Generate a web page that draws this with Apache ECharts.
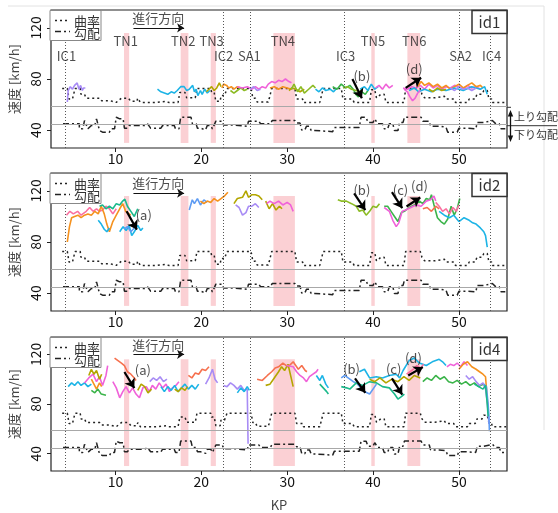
<!DOCTYPE html>
<html>
<head>
<meta charset="utf-8">
<script src="https://cdn.jsdelivr.net/npm/echarts@6/dist/echarts.min.js"></script>
<style>
  html, body { margin: 0; background: #fff; }
  #chart { width: 558px; height: 513px; }
</style>
</head>
<body>
<div id="chart"></div>
<script>
// 軸・施設
var kmTicks = [10, 20, 30, 40, 50];
var speedTicks = [40, 80, 120];
var facilityKm = [4.2, 22.6, 25.7, 36.6, 50.0, 53.7];
var facilityNames = ['IC1', 'IC2', 'SA1', 'IC3', 'SA2', 'IC4'];
var facilityNameKm = [4.3, 22.6, 25.6, 36.8, 50.2, 53.8];
var tunnels = [[11.0, 11.6], [17.6, 18.5], [21.1, 21.7], [28.4, 30.9], [39.8, 40.2], [44.0, 45.5]];
var tunnelNames = ['TN1', 'TN2', 'TN3', 'TN4', 'TN5', 'TN6'];
var tunnelNameKm = [11.2, 17.9, 21.2, 29.5, 40.0, 44.8];
var refLevels = [58.6, 44.4];

// 曲率 / 勾配 (start km, end km, plotted level)
var curvatureSteps = [
  [3.8, 4.4, 72.6], [4.6, 5.0, 64.3], [5.3, 5.9, 72.6], [6.0, 6.4, 68], [6.6, 8.2, 65],
  [8.4, 9.4, 63], [9.5, 10.1, 61.7], [10.7, 11.5, 65], [11.8, 12.5, 62.5], [12.6, 12.8, 65],
  [12.9, 14.7, 61.7], [14.8, 15.9, 62.5], [16.2, 17.3, 61.7], [17.5, 18.1, 69.5], [18.3, 19.3, 65.3],
  [19.5, 21.1, 72.6], [21.2, 21.5, 69.5], [21.7, 22.2, 62.5], [22.3, 22.7, 67], [23.0, 25.8, 72.6],
  [26.0, 26.3, 65], [26.5, 27.8, 62], [27.9, 28.1, 64.3], [28.2, 30.9, 72.6], [31.1, 31.8, 64.3],
  [31.9, 33.8, 61.7], [34.2, 36.3, 72.6], [36.5, 37.6, 64.3], [37.8, 39.6, 61.7], [39.8, 40.2, 71.6],
  [40.4, 40.6, 65.3], [40.9, 41.3, 68], [41.5, 43.6, 61.7], [43.8, 45.5, 72.6], [45.7, 45.9, 68],
  [46.0, 47.2, 65.3], [47.3, 48.3, 66.5], [48.5, 49.4, 64.3], [49.6, 51.0, 61.7], [51.2, 51.9, 64.3],
  [52.1, 52.7, 68], [52.9, 53.3, 71], [53.5, 53.8, 64.3], [53.9, 55.5, 61.7]
];
var gradientSteps = [
  [3.9, 5.8, 44.9], [5.8, 6.2, 41], [6.4, 6.6, 47.5], [6.8, 7.0, 41], [7.2, 7.6, 43.6], [7.8, 8.0, 48.8],
  [8.15, 8.35, 39.7], [8.5, 9.3, 38.4], [9.5, 9.9, 41], [10.1, 10.3, 50.1], [10.5, 10.9, 48.8],
  [11.05, 11.4, 41.5], [11.6, 13.4, 43.6], [13.6, 13.75, 44.9], [14.1, 15.3, 41.5], [15.5, 16.85, 43.6],
  [17.0, 17.4, 41], [17.6, 18.8, 50.1], [18.97, 19.4, 44.9], [19.55, 19.9, 41.5], [20.1, 20.5, 40.2],
  [20.7, 21.1, 43.6], [21.3, 21.5, 41], [21.7, 22.45, 47], [22.6, 23.8, 44], [24.0, 25.35, 43],
  [25.5, 26.7, 47], [26.9, 28.05, 45], [28.25, 30.9, 47.5], [31.1, 31.5, 45.5], [31.7, 32.05, 40],
  [32.25, 32.6, 43], [32.8, 33.2, 39.7], [33.4, 35.3, 38.8], [35.5, 38.4, 42], [38.6, 39.2, 50],
  [39.4, 40.0, 46], [40.2, 40.4, 48.8], [40.55, 41.1, 44.9], [41.3, 41.7, 41], [41.9, 42.3, 44.9],
  [42.5, 42.9, 39.7], [43.1, 43.5, 46], [43.65, 45.6, 50.1], [45.8, 46.55, 47], [46.7, 47.7, 43],
  [47.9, 48.5, 42.3], [48.7, 49.8, 38.4], [50.0, 50.8, 41.5], [51.0, 51.96, 41], [52.15, 52.9, 46],
  [53.1, 53.9, 47.5], [54.3, 54.7, 44.9], [54.9, 55.4, 41]
];

// id1 速度
var id1Purple = [[4.4,62],[4.5,71],[4.75,74],[5.0,72],[5.25,75],[5.55,77],[5.75,72],[5.95,75],[6.15,71],[6.3,73],[6.5,73]];
var id1Cyan = [[14.9,72],[15.3,70],[15.7,69],[16.1,68],[16.5,70],[16.85,69],[17.2,71],[17.6,74],[18.0,74],[18.3,71],[18.6,72],[19.0,75],[19.2,70],[19.4,72],[19.6,67],[19.9,71],[20.1,68],[20.4,72],[20.7,69],[21.0,71]];
var id1Olive = [[20.6,70],[20.9,72],[21.2,74],[21.5,71],[21.8,73],[22.1,77],[22.3,74]];
var id1Orange = [[22.4,73],[22.6,76],[22.95,75],[23.2,73],[23.5,74],[23.8,72],[24.2,74],[24.6,73]];
var id1Green = [[23.4,71],[23.8,69],[24.2,71],[24.6,73],[25.0,71],[25.35,72]];
var id1Pink = [[24.2,74],[24.8,73],[25.35,74],[25.9,72],[26.3,74],[26.7,72],[27.1,74],[27.5,73],[27.8,76],[28.2,78],[28.6,77],[29.0,79],[29.4,78],[29.8,80],[30.2,78],[30.5,77]];
var id1Purple2 = [[25.7,72],[26.1,74],[26.5,71],[26.9,72]];
var id1Orange2 = [[28.0,73],[28.5,74],[29.0,72],[29.5,74],[30.0,73],[30.5,72]];
var id1Olive2 = [[30.2,71],[30.6,73],[31.0,72],[31.5,70],[32.0,72]];
var id1Green2 = [[30.5,72],[30.8,76],[31.2,70],[31.6,74],[32.0,69],[32.5,72],[33.0,75],[33.3,73]];
var id1Cyan2 = [[33.3,72],[33.7,70],[34.1,73],[34.5,71],[35.0,72],[35.4,70],[35.8,73]];
var id1Green3 = [[35.3,74],[35.8,72],[36.3,76],[36.8,73],[37.3,75],[37.7,72],[38.0,68],[38.3,66],[38.7,70],[39.1,68],[39.5,72]];
var id1YGreen = [[36.5,73],[37.0,74],[37.5,72],[38.0,71],[38.5,70],[38.8,73]];
var id1Cyan3 = [[38.5,72],[39.0,74],[39.4,71],[39.8,76],[40.2,72],[40.6,74]];
var id1Pink2 = [[40.3,73],[40.7,75],[41.1,72],[41.5,76],[41.9,73],[42.3,75]];
var id1Pink3 = [[43.5,73],[44.0,72],[44.5,74],[45.0,73],[45.5,75],[46.0,72],[46.5,76],[47.0,73],[47.5,75],[48.0,72],[48.5,74],[49.0,73],[49.5,75],[50.0,74],[50.5,72],[51.0,75],[51.5,73],[52.0,74],[52.5,72]];
var id1Orange3 = [[45.2,74],[45.6,78],[46.0,75],[46.5,77],[47.0,74],[47.5,76],[48.0,73],[48.5,75],[49.0,72],[49.5,74],[50.0,76],[50.5,73],[51.0,75],[51.5,77],[52.0,74],[52.5,75],[52.8,73]];
var id1Cyan4 = [[44.2,71],[44.8,73],[45.3,70],[46.0,72],[46.8,70],[47.5,72],[48.5,71],[49.5,73],[50.5,71],[51.5,74],[52.5,72],[53.0,74],[53.3,68]];
var id1Olive3 = [[46.5,72],[47.0,70],[47.5,73],[48.0,71],[48.5,72]];
var id1Purple3 = [[49.0,73],[49.5,71],[50.0,74],[50.5,72],[51.0,73],[51.5,71],[52.0,73]];
var id1Magenta = [[43.6,72],[44.0,70],[44.3,66],[44.6,63],[44.9,65],[45.2,69],[45.5,71]];

// id2 速度
var id2Pink = [[4.3,101],[4.7,104],[5.1,102],[5.6,104],[6.0,101],[6.6,104],[7.0,107],[7.4,104],[7.8,106],[8.15,104],[8.5,105],[8.9,108],[9.3,106],[9.7,102],[10.1,106]];
var id2Orange = [[4.4,80],[4.65,92],[4.9,99],[5.25,100],[5.64,101],[6.0,99],[6.4,101],[6.8,102],[7.2,101],[7.6,104],[8.0,102],[8.35,108],[8.7,102],[9.0,94],[9.3,88],[9.7,96],[10.1,101],[10.5,106],[10.85,110],[11.2,104],[11.8,101]];
var id2Teal = [[8.15,108],[8.5,109],[8.9,106],[9.3,108],[9.7,106],[10.1,110],[10.5,109],[10.85,112],[11.1,113.5],[11.4,108],[11.8,104],[12.2,100],[12.6,106]];
var id2Cyan = [[8.0,97],[8.35,94],[8.7,90],[9.0,88],[9.3,91]];
var id2Cyan2 = [[10.5,88],[10.9,92],[11.25,89],[11.6,93],[11.9,85],[12.2,88],[12.6,93],[12.95,89],[13.2,91]];
var id2Blue = [[11.0,90],[11.4,92],[11.8,88],[12.2,91]];
var id2Blue2 = [[18.6,105],[18.95,113],[19.2,110],[19.55,114],[19.9,109],[20.3,113],[20.7,111]];
var id2Orange2 = [[19.9,112],[20.3,110],[20.7,112],[21.1,111],[21.5,114],[21.9,112],[22.3,114],[22.7,116],[23.1,119]];
var id2Olive = [[23.8,110],[24.2,114],[24.8,115],[25.2,120],[25.5,115],[25.9,117],[26.3,117],[26.7,116],[27.1,113]];
var id2Purple = [[24.0,109],[24.4,107],[24.8,101],[25.2,103],[25.5,108],[25.9,108],[26.3,110],[26.7,107]];
var id2Orange3 = [[27.5,112],[27.9,106],[28.3,110],[28.7,105],[29.1,108],[29.4,106]];
var id2Pink2 = [[27.6,110],[28.0,112],[28.5,110],[29.0,112],[29.5,109],[30.0,111],[30.4,109],[30.7,104]];
var id2YGreen = [[35.9,113],[36.3,112],[36.9,112],[37.5,110],[38.05,108],[38.4,104],[38.8,105],[39.2,101],[39.6,104],[40.0,108],[40.4,107],[40.75,110]];
var id2Green = [[41.3,108],[41.7,108],[42.1,104],[42.5,100],[42.9,96],[43.3,103],[43.65,104],[44.2,107],[44.8,109],[45.4,112],[45.8,110],[46.2,114],[46.6,113],[46.8,117],[47.1,109],[47.5,99],[47.9,96],[48.3,94],[48.7,98],[49.1,108],[49.45,101],[49.8,106],[50.1,114]];
var id2Magenta = [[41.3,107],[41.9,104],[42.3,97],[42.7,92],[43.0,95],[43.4,104],[43.8,105],[44.4,107],[45.0,109],[45.6,108],[46.2,112],[46.7,113],[47.1,116],[47.3,112]];
var id2Salmon = [[45.8,106],[46.3,107],[46.8,104],[47.3,108],[47.7,106]];
var id2Pink3 = [[47.3,111],[47.7,108],[48.1,104],[48.5,106],[48.9,102],[49.3,107],[49.7,104],[50.0,109]];
var id2Cyan3 = [[47.7,104],[48.3,101],[48.9,99],[49.4,101],[50.0,96],[50.6,99],[51.2,97],[51.6,95],[52.0,94],[52.5,91],[52.9,88],[53.1,85],[53.3,76]];

// id4 速度
var id4Cyan = [[4.5,94],[4.9,97],[5.25,95],[5.64,98],[6.0,95],[6.4,97],[6.8,94],[7.2,96]];
var id4Pink = [[6.4,97],[6.9,101],[7.4,104],[7.8,98],[8.15,102],[8.5,95],[8.9,103],[9.1,111]];
var id4Olive = [[6.9,103],[7.2,108],[7.5,104],[7.8,107],[8.15,100],[8.4,104]];
var id4Orange = [[7.2,100],[7.5,96],[7.8,92],[8.15,97],[8.4,94]];
var id4Green = [[7.2,91],[7.6,89],[7.96,92],[8.35,88],[8.9,87]];
var id4Red = [[9.9,117],[10.3,115],[10.7,113],[11.05,111],[11.4,106],[11.8,104],[12.2,101],[12.4,99]];
var id4Magenta = [[9.7,98],[10.1,93],[10.5,85],[10.86,90],[11.24,94],[11.63,89],[12.0,93],[12.4,88],[12.8,85],[13.2,93],[13.6,94],[13.95,90],[14.3,95],[14.7,92],[15.1,97],[15.5,93],[15.9,96],[16.3,90],[16.65,93],[17.04,95],[17.4,98]];
var id4Orange2 = [[12.6,91],[13.0,96],[13.4,94],[13.8,89],[14.2,92]];
var id4Purple = [[14.0,98],[14.4,101],[14.8,99],[15.2,102],[15.6,98],[16.0,100]];
var id4Cyan2 = [[15.3,94],[15.7,90],[16.1,94],[16.5,91],[16.9,95],[17.3,90],[17.7,93],[18.1,96],[18.5,92],[18.9,95],[19.3,92],[19.7,96]];
var id4Olive2 = [[16.9,92],[17.3,90],[17.7,93],[18.1,91],[18.4,94]];
var id4Red2 = [[18.5,103],[18.9,101],[19.3,105],[19.7,104],[20.1,108],[20.5,107],[20.9,110]];
var id4Purple2 = [[20.5,96],[20.9,101],[21.3,108],[21.6,100],[21.9,97]];
var id4Purple3 = [[22.6,95],[23.0,94],[23.4,97],[23.8,95],[24.2,92],[24.6,95],[25.0,91],[25.35,92],[25.45,48]];
var id4Cyan3 = [[24.2,89],[24.6,93],[25.0,90],[25.35,94],[25.6,91]];
var id4Salmon = [[26.5,100],[27.1,99],[27.7,103],[28.2,106],[28.6,109],[29.0,110],[29.5,113],[30.1,110],[30.7,114],[31.3,108],[31.7,111],[32.1,107],[32.3,106]];
var id4Olive3 = [[27.5,95],[28.0,96],[28.4,100],[29.0,106],[29.35,110],[29.7,107],[30.1,112],[30.5,100],[30.7,94]];
var id4Pink2 = [[29.9,111],[30.7,110],[31.1,106],[31.5,103],[31.9,101],[32.25,98],[32.6,102],[33.0,104],[33.4,106],[33.6,108]];
var id4Cyan4 = [[33.4,103],[33.8,99],[34.1,103],[34.5,96],[34.8,93]];
var id4Green2 = [[33.8,96],[34.2,93],[34.6,90],[34.8,88]];
var id4Blue = [[36.3,101],[36.7,103],[37.1,101],[37.7,98],[38.05,97],[38.6,93],[39.0,90],[39.6,88],[40.0,92],[40.4,96]];
var id4Cyan5 = [[38.4,106],[39.0,108],[39.6,101],[40.4,102],[41.1,101],[41.9,103],[42.7,104],[43.1,101],[43.5,107],[44.2,115],[44.8,117],[45.4,113],[46.2,111],[46.9,114],[47.7,116],[48.1,114],[48.5,111]];
var id4Teal = [[36.3,94],[36.9,93],[37.3,92],[38.05,97],[38.8,95],[39.6,98],[40.4,97],[41.1,94],[41.9,93],[42.5,88],[42.9,84],[43.3,86],[43.65,88]];
var id4Olive4 = [[39.6,100],[40.2,98],[40.8,101],[41.5,97],[42.2,100],[42.9,98],[43.6,102],[44.2,99],[44.8,103],[45.5,101]];
var id4Green3 = [[45.8,98],[46.3,101],[46.8,99],[47.3,103],[47.8,100],[48.3,102],[48.8,98],[49.3,97],[49.8,99],[50.3,96],[50.8,98],[51.3,95],[51.8,97],[52.3,94],[52.8,96],[53.2,94]];
var id4Pink3 = [[43.9,104],[44.3,106],[44.7,108],[45.1,111],[45.5,109],[45.9,112]];
var id4Magenta2 = [[48.6,110],[49.0,112],[49.4,111],[49.8,113],[50.2,110],[50.6,114],[51.0,111]];
var id4Orange3 = [[50.0,108],[50.5,112],[51.0,114],[51.5,110],[52.0,108],[52.4,106],[52.8,104],[53.1,102],[53.3,84],[53.4,76]];
var id4Purple4 = [[50.8,103],[51.2,100],[51.6,102],[52.0,98],[52.4,95],[52.8,97],[53.1,92],[53.3,82],[53.5,64]];
var id4Blue2 = [[52.9,96],[53.2,94],[53.4,80],[53.5,70],[53.55,58]];
var id4Teal2 = [[51.8,96],[52.3,94],[52.8,92],[53.1,95],[53.3,80],[53.4,70]];

// 矢印 (a)-(d)
var arrows = [
  [
    { from: [37.6, 80], to: [38.7, 65], name: '(b)', at: [38.7, 82] },
    { from: [43.8, 73], to: [45.6, 81], name: '(d)', at: [44.8, 87.6] }
  ],
  [
    { from: [11.3, 104], to: [12.5, 89.7], name: '(a)', at: [13.3, 101.4] },
    { from: [37.8, 118], to: [39.1, 105], name: '(b)', at: [38.7, 120.8] },
    { from: [42.2, 119], to: [43.4, 106.5], name: '(c)', at: [43.2, 120.8] },
    { from: [43.9, 107.8], to: [45.5, 114.8], name: '(d)', at: [45.4, 124] }
  ],
  [
    { from: [11.05, 105.8], to: [12.2, 92.8], name: '(a)', at: [13.2, 107] },
    { from: [37.9, 100.6], to: [39.1, 89], name: '(b)', at: [37.5, 108.4] },
    { from: [42.2, 100.6], to: [43.4, 87.6], name: '(c)', at: [42.4, 108.4] },
    { from: [44.1, 103], to: [45.8, 109.7], name: '(d)', at: [44.7, 117.4] }
  ]
];
var directionArrowY = [120, 118.2, 120];
var directionTextY = [128, 126.2, 127.8];

var C = {
  cyan: '#1db4e6', blue: '#5f9cf3', purple: '#a88cf5', magenta: '#f062d9', pink: '#fa70a0',
  orange: '#f5921f', olive: '#b3a600', ygreen: '#8cbb24', green: '#3bb44a', teal: '#1bb98b', salmon: '#f6714f'
};

var panelLines = [
  [[id1Purple, C.purple], [id1Cyan, C.cyan], [id1Olive, C.olive], [id1Orange, C.orange], [id1Green, C.ygreen],
   [id1Pink, C.magenta], [id1Purple2, C.purple], [id1Orange2, C.orange], [id1Olive2, C.olive], [id1Green2, C.ygreen],
   [id1Cyan2, C.cyan], [id1Green3, C.green], [id1YGreen, C.ygreen], [id1Cyan3, C.cyan], [id1Pink2, C.magenta],
   [id1Pink3, C.magenta], [id1Orange3, C.orange], [id1Cyan4, C.cyan], [id1Olive3, C.olive], [id1Purple3, C.purple],
   [id1Magenta, C.magenta]],
  [[id2Pink, C.pink], [id2Orange, C.orange], [id2Teal, C.teal], [id2Cyan, C.cyan], [id2Cyan2, C.cyan],
   [id2Blue, C.blue], [id2Blue2, C.blue], [id2Orange2, C.orange], [id2Olive, C.olive], [id2Purple, C.purple],
   [id2Orange3, C.olive], [id2Pink2, C.magenta], [id2YGreen, C.ygreen], [id2Green, C.green], [id2Magenta, C.magenta],
   [id2Salmon, C.salmon], [id2Pink3, C.pink], [id2Cyan3, C.cyan]],
  [[id4Cyan, C.cyan], [id4Pink, C.magenta], [id4Olive, C.olive], [id4Orange, C.orange], [id4Green, C.green],
   [id4Red, C.salmon], [id4Magenta, C.magenta], [id4Orange2, C.olive], [id4Purple, C.purple], [id4Cyan2, C.cyan],
   [id4Olive2, C.olive], [id4Red2, C.salmon], [id4Purple2, C.purple], [id4Purple3, C.purple], [id4Cyan3, C.cyan],
   [id4Salmon, C.salmon], [id4Olive3, C.olive], [id4Pink2, C.magenta], [id4Cyan4, C.cyan], [id4Green2, C.teal],
   [id4Blue, C.blue], [id4Cyan5, C.cyan], [id4Teal, C.teal], [id4Olive4, C.olive], [id4Green3, C.green],
   [id4Pink3, C.pink], [id4Magenta2, C.magenta], [id4Orange3, C.orange], [id4Purple4, C.purple], [id4Blue2, C.blue],
   [id4Teal2, C.teal]]
];
var panelIds = ['id1', 'id2', 'id4'];

var FONT = '"Noto Sans CJK JP", "Noto Sans", sans-serif';
var tops = [10, 173, 337];

function stepData(steps) {
  var d = [];
  steps.forEach(function (s) { d.push([s[0], s[2]]); d.push([s[1], s[2]]); });
  return d;
}

var grids = [], xAxes = [], yAxes = [], series = [], graphics = [];

tops.forEach(function (top, p) {
  grids.push({ left: 50, right: 51, top: top, height: 138, show: true, borderColor: '#222', borderWidth: 1.2, backgroundColor: 'transparent' });
  xAxes.push({
    gridIndex: p, type: 'value', min: 2.5, max: 55.6,
    axisLine: { show: false }, splitLine: { show: false },
    axisTick: { customValues: kmTicks, length: 4, lineStyle: { color: '#222' } },
    axisLabel: { customValues: kmTicks, fontSize: 14, color: '#111', margin: 4, fontFamily: FONT },
    name: p === 2 ? 'KP' : '', nameLocation: 'middle', nameGap: 28,
    nameTextStyle: { fontSize: 13, color: '#444', fontFamily: FONT }
  });
  yAxes.push({
    gridIndex: p, type: 'value', min: 26, max: 134,
    axisLine: { show: false }, splitLine: { show: false },
    axisTick: { customValues: speedTicks, length: 4, lineStyle: { color: '#222' } },
    axisLabel: { customValues: speedTicks, rotate: 90, fontSize: 14, color: '#111', margin: 8, fontFamily: FONT },
    name: '速度 [km/h]', nameLocation: 'middle', nameGap: 30,
    nameTextStyle: { fontSize: 13, color: '#444', fontFamily: FONT }
  });

  // tunnels, facility lines, reference levels
  series.push({
    type: 'line', xAxisIndex: p, yAxisIndex: p, data: [], silent: true, z: 1,
    markArea: {
      silent: true, itemStyle: { color: '#fbd0d4' },
      data: tunnels.map(function (t) { return [{ xAxis: t[0], yAxis: 30 }, { xAxis: t[1], yAxis: 116 }]; })
    },
    markLine: {
      silent: true, symbol: 'none', label: { show: false },
      data: facilityKm.map(function (x) { return { xAxis: x, lineStyle: { type: [1, 2], color: '#555', width: 1 } }; })
        .concat(refLevels.map(function (y) { return { yAxis: y, lineStyle: { type: 'solid', color: '#a8a8a8', width: 1 } }; }))
    }
  });
  series.push({
    type: 'line', xAxisIndex: p, yAxisIndex: p, data: stepData(curvatureSteps), symbol: 'none', silent: true, z: 2,
    lineStyle: { color: '#222', width: 1.5, type: [2, 3] }
  });
  series.push({
    type: 'line', xAxisIndex: p, yAxisIndex: p, data: stepData(gradientSteps), symbol: 'none', silent: true, z: 2,
    lineStyle: { color: '#222', width: 1.5, type: [6, 3, 2, 3] }
  });
  panelLines[p].forEach(function (l) {
    series.push({
      type: 'line', xAxisIndex: p, yAxisIndex: p, data: l[0], symbol: 'none', silent: true, z: 3,
      lineStyle: { color: l[1], width: 1.6 }, itemStyle: { color: l[1] }
    });
  });
  // (a)-(d) arrows
  series.push({
    type: 'line', xAxisIndex: p, yAxisIndex: p, data: [], silent: true, z: 6,
    markLine: {
      silent: true, symbol: ['none', 'arrow'], symbolSize: 9, label: { show: false },
      lineStyle: { color: '#000', width: 2.2, type: 'solid' },
      data: arrows[p].map(function (a) { return [{ coord: a.from }, { coord: a.to }]; })
    }
  });
  // 進行方向 arrow
  series.push({
    type: 'line', xAxisIndex: p, yAxisIndex: p, data: [], silent: true, z: 6,
    markLine: {
      silent: true, symbol: ['none', 'arrow'], symbolSize: 7, label: { show: false },
      lineStyle: { color: '#111', width: 1.2, type: 'solid' },
      data: [[{ coord: [12.1, directionArrowY[p]] }, { coord: [18.0, directionArrowY[p]] }]]
    }
  });
  var texts = [{ name: '進行方向', value: [15.0, directionTextY[p]] }];
  arrows[p].forEach(function (a) { texts.push({ name: a.name, value: a.at }); });
  if (p === 0) {
    facilityNames.forEach(function (n, i) { texts.push({ name: n, value: [facilityNameKm[i], 98] }); });
    tunnelNames.forEach(function (n, i) { texts.push({ name: n, value: [tunnelNameKm[i], 109.6] }); });
  }
  series.push({
    type: 'scatter', xAxisIndex: p, yAxisIndex: p, data: texts, symbolSize: 0, silent: true, z: 7,
    label: { show: true, position: 'inside', formatter: '{b}', fontSize: 13, color: '#222', fontFamily: FONT }
  });

  // legend box + id box
  graphics.push(
    { type: 'rect', shape: { x: 50, y: top + 0.5, width: 51, height: 30 }, style: { fill: '#fff', stroke: '#888', lineWidth: 1 }, z: 100 },
    { type: 'line', shape: { x1: 55, y1: top + 10.5, x2: 70, y2: top + 10.5 }, style: { stroke: '#222', lineWidth: 1.5, lineDash: [2, 3] }, z: 101 },
    { type: 'line', shape: { x1: 55, y1: top + 21.5, x2: 70, y2: top + 21.5 }, style: { stroke: '#222', lineWidth: 1.5, lineDash: [6, 3, 2, 3] }, z: 101 },
    { type: 'text', x: 74, y: top + 5, style: { text: '曲率', font: '13px ' + FONT, fill: '#333', verticalAlign: 'top', textVerticalAlign: 'top' }, z: 101 },
    { type: 'text', x: 74, y: top + 16.5, style: { text: '勾配', font: '13px ' + FONT, fill: '#333', verticalAlign: 'top', textVerticalAlign: 'top' }, z: 101 },
    { type: 'rect', shape: { x: 472, y: top + 0.5, width: 35, height: 23 }, style: { fill: '#fff', stroke: '#333', lineWidth: 1.5 }, z: 100 },
    { type: 'text', x: 489.5, y: top + 12, style: { text: panelIds[p], font: '15px ' + FONT, fill: '#333', align: 'center', verticalAlign: 'middle', textAlign: 'center', textVerticalAlign: 'middle' }, z: 101 }
  );
});

// 上り / 下り勾配 note, outer frame
graphics.push(
  { type: 'line', shape: { x1: 8, y1: 6, x2: 544, y2: 6 }, style: { stroke: '#e2e2e2', lineWidth: 1 } },
  { type: 'line', shape: { x1: 544, y1: 6, x2: 544, y2: 430 }, style: { stroke: '#e2e2e2', lineWidth: 1 } },
  { type: 'line', shape: { x1: 507, y1: 125.7, x2: 557, y2: 125.7 }, style: { stroke: '#333', lineWidth: 1 } },
  { type: 'line', shape: { x1: 507, y1: 107.3, x2: 511, y2: 107.3 }, style: { stroke: '#333', lineWidth: 1 } },
  { type: 'line', shape: { x1: 510.5, y1: 113, x2: 510.5, y2: 139 }, style: { stroke: '#111', lineWidth: 1.3 } },
  { type: 'polygon', shape: { points: [[510.5, 110], [507.8, 116.5], [513.2, 116.5]] }, style: { fill: '#111' } },
  { type: 'polygon', shape: { points: [[510.5, 142], [507.8, 135.5], [513.2, 135.5]] }, style: { fill: '#111' } },
  { type: 'text', x: 514, y: 117, style: { text: '上り勾配', font: '11px ' + FONT, fill: '#333', verticalAlign: 'middle', textVerticalAlign: 'middle' } },
  { type: 'text', x: 514, y: 135, style: { text: '下り勾配', font: '11px ' + FONT, fill: '#333', verticalAlign: 'middle', textVerticalAlign: 'middle' } }
);

var chart = echarts.init(document.getElementById('chart'));
chart.setOption({
  animation: false,
  textStyle: { fontFamily: FONT },
  grid: grids,
  xAxis: xAxes,
  yAxis: yAxes,
  series: series,
  graphic: graphics
});
</script>
</body>
</html>
